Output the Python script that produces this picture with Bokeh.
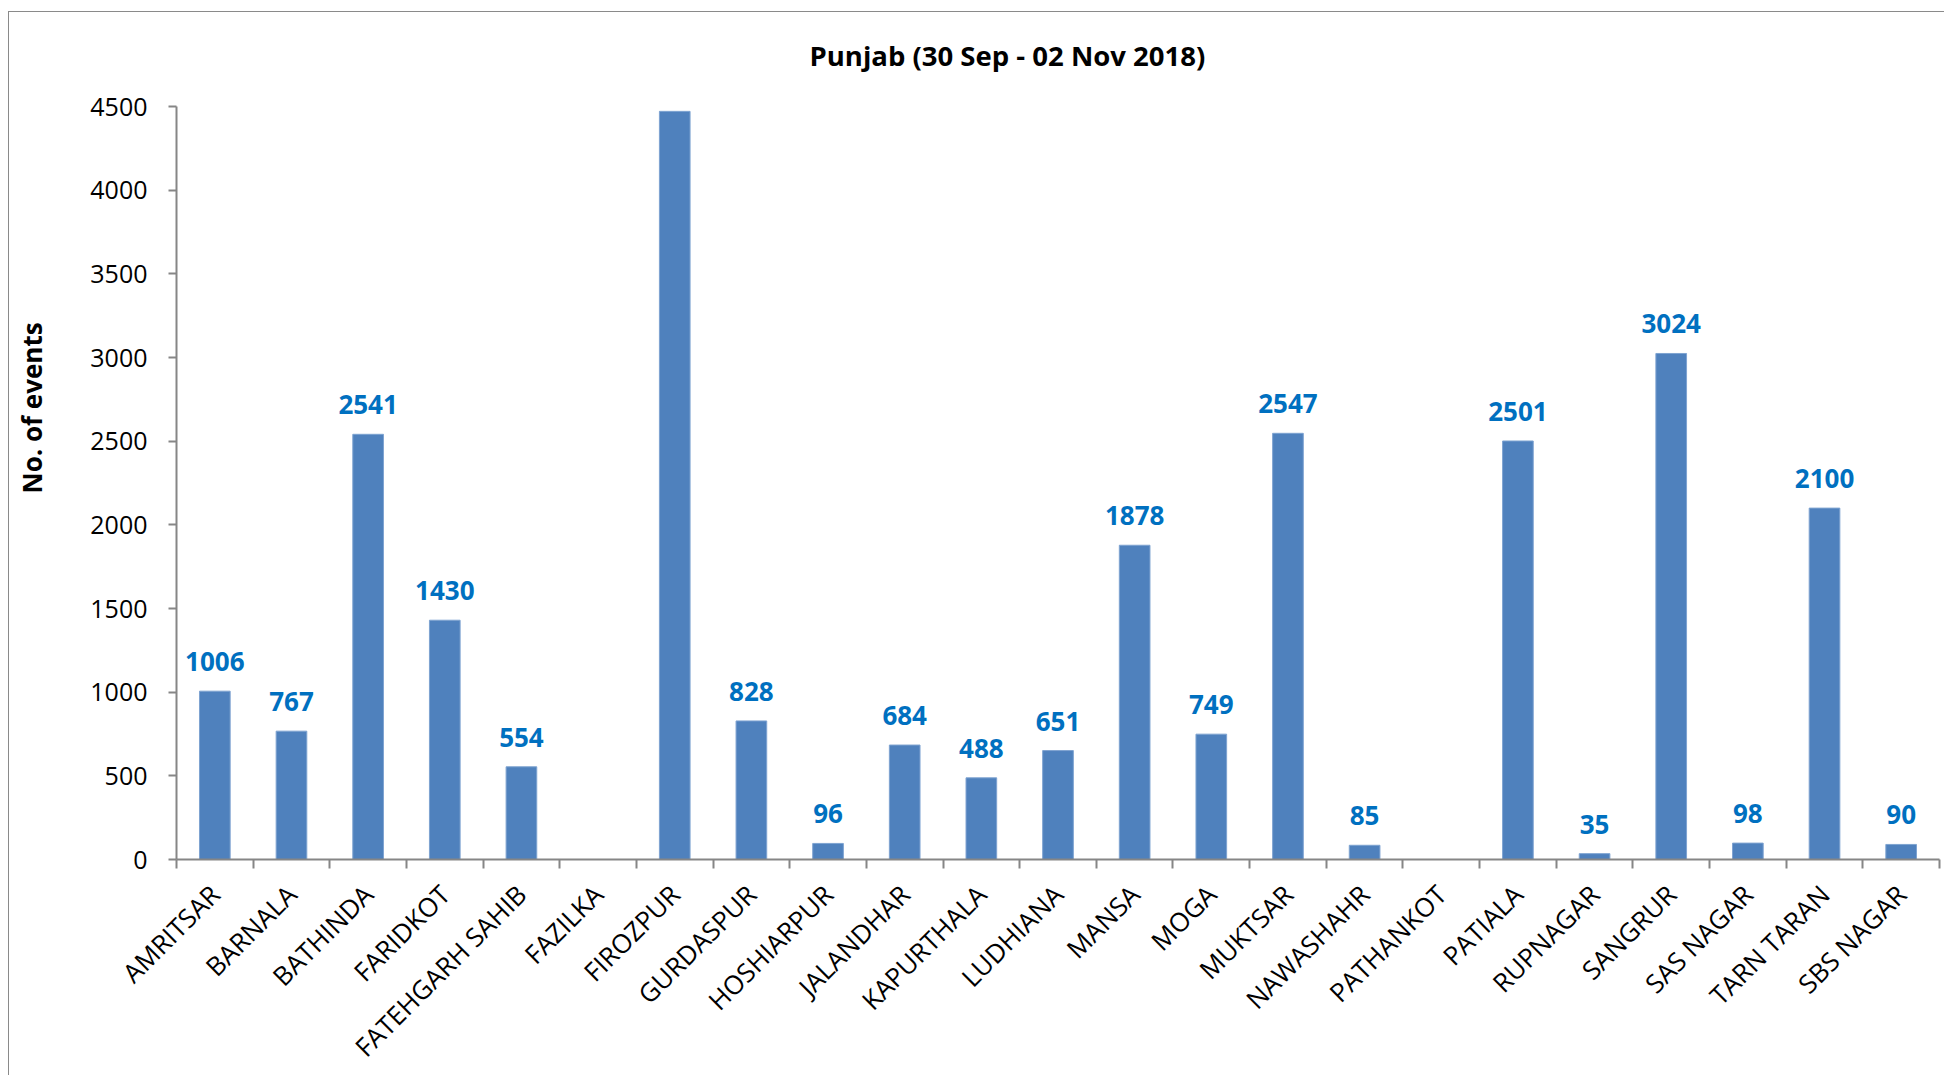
import math
from bokeh.plotting import figure
from bokeh.models import ColumnDataSource, FixedTicker, LabelSet, Range1d, Title
from bokeh.core.properties import value
from bokeh.embed import file_html
from bokeh.resources import INLINE

districts = ["AMRITSAR", "BARNALA", "BATHINDA", "FARIDKOT", "FATEHGARH SAHIB",
             "FAZILKA", "FIROZPUR", "GURDASPUR", "HOSHIARPUR", "JALANDHAR",
             "KAPURTHALA", "LUDHIANA", "MANSA", "MOGA", "MUKTSAR", "NAWASHAHR",
             "PATHANKOT", "PATIALA", "RUPNAGAR", "SANGRUR", "SAS NAGAR",
             "TARN TARAN", "SBS NAGAR"]
events = [1006, 767, 2541, 1430, 554, 0, 4471, 828, 96, 684, 488, 651, 1878,
          749, 2547, 85, 0, 2501, 35, 3024, 98, 2100, 90]
y_ticks = [0, 500, 1000, 1500, 2000, 2500, 3000, 3500, 4000, 4500]
title_text = "Punjab (30 Sep - 02 Nov 2018)"
y_title = "No. of events"

FONT = "Open Sans"
n = len(districts)
centers = [i + 0.5 for i in range(n)]
bounds = list(range(n + 1))

src = ColumnDataSource(dict(x=centers, top=events, name=districts))
lab_idx = [i for i, v in enumerate(events) if v > 0]
lab_src = ColumnDataSource(dict(x=[centers[i] for i in lab_idx],
                                y=[events[i] for i in lab_idx],
                                t=[str(events[i]) for i in lab_idx]))

p = figure(frame_width=1763, frame_height=753,
           min_border_left=168, min_border_right=5,
           min_border_top=106, min_border_bottom=207,
           x_range=Range1d(0, n), y_range=Range1d(0, 4500),
           output_backend="svg", toolbar_location=None, tools="",
           title=title_text)
# thin grey chart-area frame (left and top edges) drawn behind a transparent canvas
p.styles = {
    "margin-left": "8px",
    "background": ("linear-gradient(#8a8a8a,#8a8a8a) 0px 11px / 100% 1px no-repeat, "
                   "linear-gradient(#8a8a8a,#8a8a8a) 0px 11px / 1px 100% no-repeat, "
                   "#ffffff"),
}
p.border_fill_color = None
p.background_fill_color = "white"

p.title.align = "left"
p.title.offset = 633
p.title.standoff = 66
p.title.text_font = FONT
p.title.text_font_size = "27.5px"
p.title.text_font_style = "bold"
p.title.text_color = "black"

p.vbar(x="x", top="top", width=0.4, source=src,
       fill_color="#4F81BD", line_color="#7ea3d1", line_width=1)

labels = LabelSet(x="x", y="y", text="t", source=lab_src,
                  text_align="center", text_baseline="alphabetic",
                  y_offset=20, text_font=value(FONT), text_font_size="26px",
                  text_font_style="bold", text_color="#0070C0")
p.add_layout(labels)

p.xgrid.grid_line_color = None
p.ygrid.grid_line_color = None
p.outline_line_color = None

AX = "#868686"
# x axis: labels at centers, tick marks at category boundaries
xa = p.xaxis[0]
xa.ticker = FixedTicker(ticks=centers, minor_ticks=bounds)
xa.major_label_overrides = {c: d for c, d in zip(centers, districts)}
xa.major_label_orientation = math.pi / 4
xa.major_tick_out = 0
xa.major_tick_in = 0
xa.minor_tick_out = 9
xa.minor_tick_in = 0
xa.minor_tick_line_color = AX
xa.axis_line_color = AX
xa.axis_line_width = 2
xa.minor_tick_line_width = 2
xa.major_label_text_font = FONT
xa.major_label_text_font_size = "26px"
xa.major_label_text_color = "black"
xa.major_label_standoff = 21

ya = p.yaxis[0]
ya.ticker = FixedTicker(ticks=y_ticks, minor_ticks=[])
ya.major_tick_out = 8
ya.major_tick_in = 0
ya.major_tick_line_color = AX
ya.major_tick_line_width = 2
ya.axis_line_color = AX
ya.axis_line_width = 2
ya.minor_tick_line_color = None
ya.major_label_text_font = FONT
ya.major_label_text_font_size = "25px"
ya.major_label_text_color = "black"
ya.major_label_standoff = 21

# invisible spacer between the y axis and its title
spacer = Title(text=" ", text_font_size="1px", standoff=33)
p.add_layout(spacer, "left")
ytitle = Title(text=y_title, align="left", offset=366, standoff=4,
               vertical_align="bottom", text_font=FONT, text_font_size="26px",
               text_font_style="bold", text_color="black")
p.add_layout(ytitle, "left")

open("out.html", "w").write(file_html(p, INLINE))
